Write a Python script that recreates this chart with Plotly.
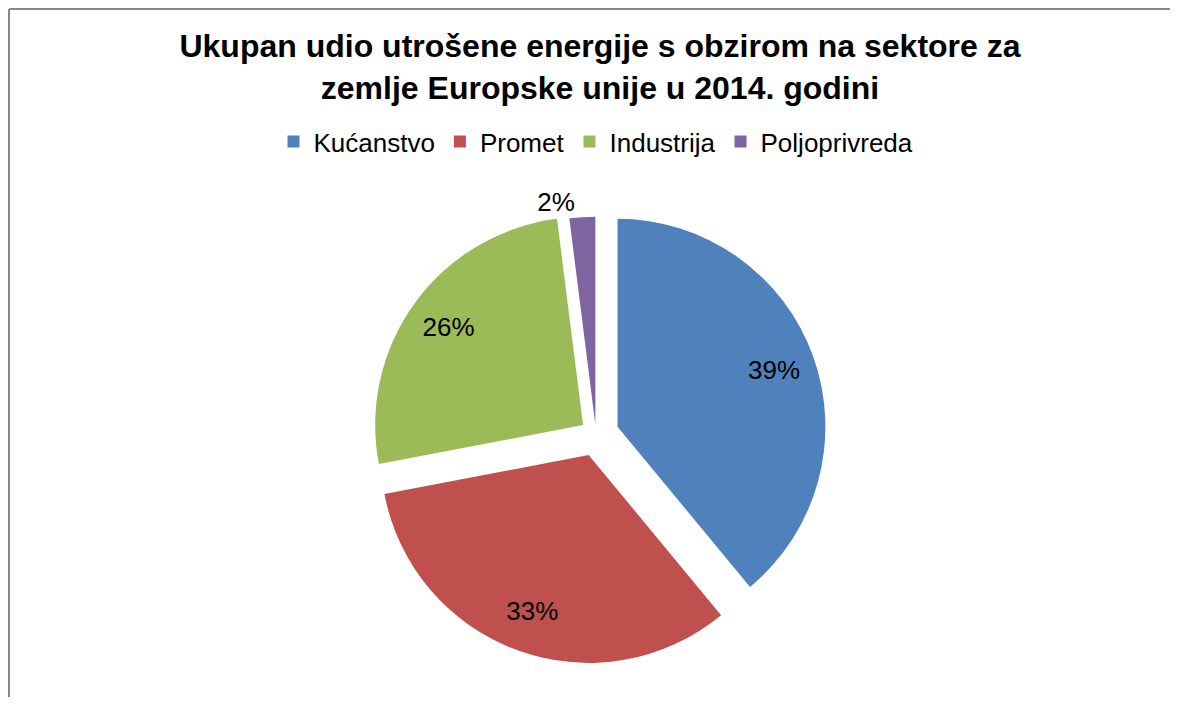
import plotly.graph_objects as go

sectors = ["Kućanstvo", "Promet", "Industrija", "Poljoprivreda"]
shares = [39, 33, 26, 2]
colors = ["#4F81BD", "#C0504D", "#9BBB59", "#8064A2"]

W, H = 1178, 706
FONT = "Liberation Sans, Arial, sans-serif"

# pie centre / radius in pixels
cx, cy, r = 588, 437, 213
pulls = [0.11, 0.105, 0.077, 0.048]
half = r * (1 + max(pulls))
dom = dict(x=[(cx - half) / W, (cx + half) / W], y=[(H - cy - half) / H, (H - cy + half) / H])

common = dict(labels=sectors, values=shares, sort=False, direction="clockwise",
              rotation=0, pull=pulls, domain=dom)

fig = go.Figure()
# coloured slices
fig.add_trace(go.Pie(
    **common,
    marker=dict(colors=colors, line=dict(width=0)),
    textinfo="none",
    hoverinfo="label+percent",
))
# percentage labels, placed in the outer part of each slice
fig.add_trace(go.Pie(
    **common,
    hole=0.6,
    marker=dict(colors=["rgba(0,0,0,0)"] * 4, line=dict(width=0)),
    texttemplate="%{percent:.0%}",
    textposition=["inside", "inside", "inside", "outside"],
    insidetextorientation="horizontal",
    textfont=dict(family=FONT, size=26, color="black"),
    showlegend=False,
    hoverinfo="skip",
))

fig.update_layout(
    width=W, height=H,
    margin=dict(l=0, r=0, t=0, b=0),
    paper_bgcolor="white",
    font=dict(family=FONT, color="black"),
    title=dict(
        text="<b>Ukupan udio utrošene energije s obzirom na sektore za<br>zemlje Europske unije u 2014. godini</b>",
        x=592 / W, xanchor="center",
        y=1 - 49 / H, yanchor="middle",
        font=dict(family=FONT, size=32, color="black"),
    ),
    legend=dict(
        orientation="h",
        x=588 / W, xanchor="center",
        y=1 - 137 / H, yanchor="middle",
        font=dict(family=FONT, size=26, color="black"),
    ),
    shapes=[
        dict(type="line", xref="paper", yref="paper", x0=1 / W, x1=1, y0=1 - 1 / H, y1=1 - 1 / H,
             line=dict(color="#878787", width=2)),
        dict(type="line", xref="paper", yref="paper", x0=1 / W, x1=1 / W, y0=0, y1=1 - 1 / H,
             line=dict(color="#878787", width=2)),
    ],
)

fig.write_html("out.html")
